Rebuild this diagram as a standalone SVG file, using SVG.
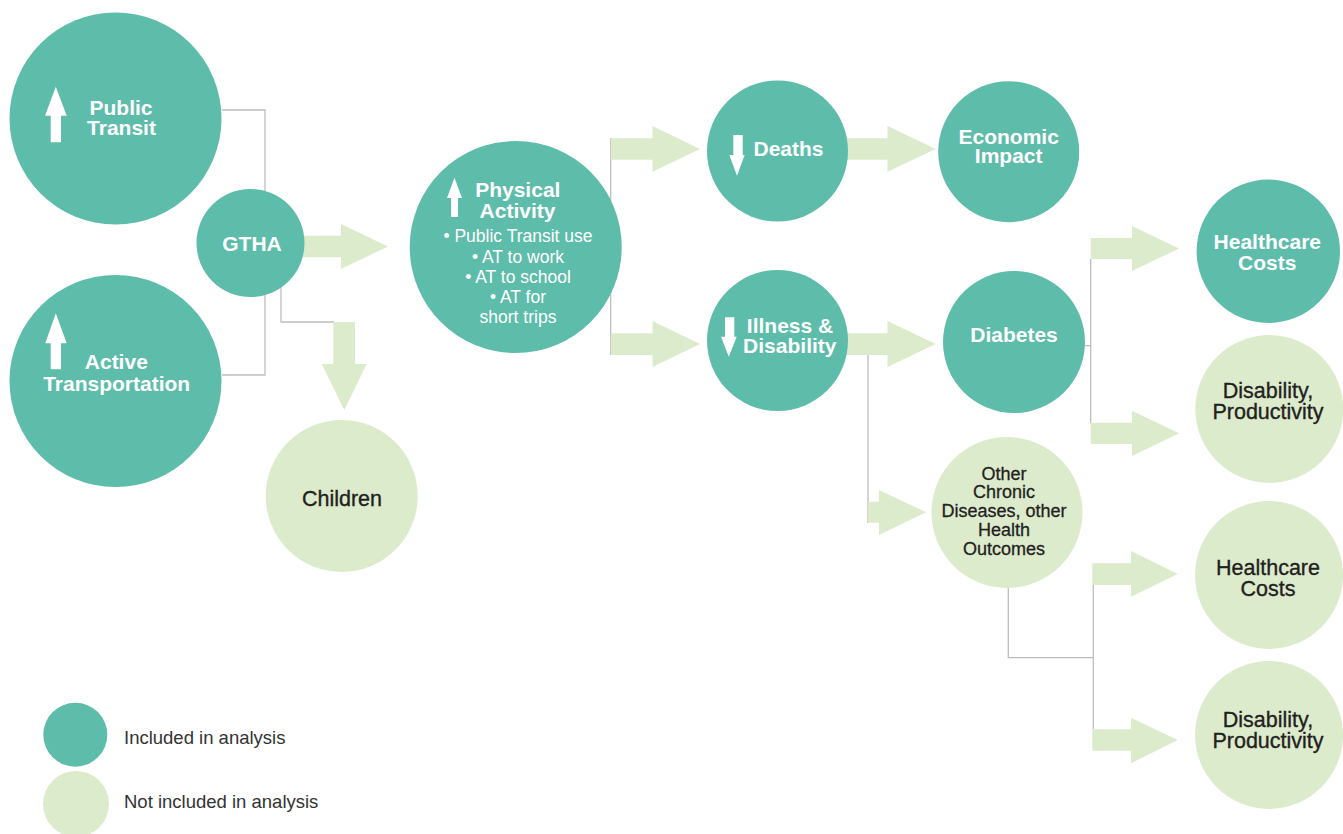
<svg xmlns="http://www.w3.org/2000/svg" width="1343" height="834" viewBox="0 0 1343 834">
<style>
.inc{fill:#5EBCAA}
.exc{fill:#DDEBCD}
.arr{fill:#DDEBCD}
.wa{fill:#FFFFFF}
.ln{fill:none;stroke:#BDBDBD;stroke-width:1.3}
text{font-family:"Liberation Sans",Arial,Helvetica,sans-serif;text-anchor:middle}
.tw{fill:#FFFFFF;font-weight:bold;font-size:21px}
.tb{fill:#FFFFFF;font-size:17.5px}
.td{fill:#231F20;font-size:21.5px;stroke:#231F20;stroke-width:0.35}
.ts{fill:#231F20;font-size:18px;stroke:#231F20;stroke-width:0.3}
.tl{fill:#333333;font-size:18.5px;text-anchor:start}
</style>
<rect width="1343" height="834" fill="#FFFFFF"/>
<g id="connectors">
<path class="ln" d="M222,110 H265 V375 H222"/>
<path class="ln" d="M281,287 V322 H334"/>
<path class="ln" d="M610.7,138 V355"/>
<path class="ln" d="M868,355 V523"/>
<path class="ln" d="M1085,345.7 H1090.7 M1090.7,259 V423"/>
<path class="ln" d="M1008.3,587 V657.7 H1093.3 M1093.3,585 V729.3"/>
<polygon class="arr" points="300,235.8 341,235.8 341,224 388,246.5 341,269 341,257.2 300,257.2"/>
<polygon class="arr" points="333.3,322 355,322 355,364 366.7,364 344.3,410 321.7,364 333.3,364"/>
<polygon class="arr" points="610.7,138.3 652.5,138.3 652.5,126 700,149 652.5,171.7 652.5,159.7 610.7,159.7"/>
<polygon class="arr" points="610.7,333.3 652.5,333.3 652.5,321 700,344 652.5,367 652.5,355 610.7,355"/>
<polygon class="arr" points="846,138.3 887.5,138.3 887.5,126 935.7,149 887.5,171.7 887.5,159.7 846,159.7"/>
<polygon class="arr" points="846,333.3 887.5,333.3 887.5,321 935.7,344 887.5,367 887.5,355 846,355"/>
<polygon class="arr" points="868,501.7 879,501.7 879,490 926,512.3 879,535 879,522.7 868,522.7"/>
<polygon class="arr" points="1090.7,238 1132,238 1132,226 1179,248.6 1132,271 1132,259 1090.7,259"/>
<polygon class="arr" points="1090.7,422.7 1132,422.7 1132,410.7 1179,433.3 1132,456 1132,444 1090.7,444"/>
<polygon class="arr" points="1092.3,563.3 1131,563.3 1131,551 1177.7,574 1131,596.7 1131,585 1092.3,585"/>
<polygon class="arr" points="1092.3,729.3 1131,729.3 1131,717.7 1177.7,740 1131,763.3 1131,750.7 1092.3,750.7"/>
</g>
<g id="public-transit">
<circle class="inc" cx="115.5" cy="118.5" r="106"/>
<polygon class="wa" points="55.8,86.7 66.7,115.7 61,115.7 61,142.3 50.7,142.3 50.7,115.7 45,115.7"/>
<text class="tw" x="121" y="114.7">Public</text>
<text class="tw" x="121.5" y="135">Transit</text>
</g>
<g id="active-transportation">
<circle class="inc" cx="115.5" cy="381" r="106"/>
<polygon class="wa" points="55.8,313.3 66.7,343.3 61,343.3 61,369.3 50.7,369.3 50.7,343.3 45.3,343.3"/>
<text class="tw" x="116.3" y="369.3">Active</text>
<text class="tw" x="116.7" y="390.7">Transportation</text>
</g>
<g id="gtha">
<circle class="inc" cx="250.5" cy="243" r="54"/>
<text class="tw" x="252" y="251">GTHA</text>
</g>
<g id="children">
<circle class="exc" cx="341.7" cy="496" r="76"/>
<text class="td" x="342" y="505.7">Children</text>
</g>
<g id="physical-activity">
<circle class="inc" cx="515.7" cy="247" r="106"/>
<polygon class="wa" points="454.5,177.7 462,198 458,198 458,217 451,217 451,198 447,198"/>
<text class="tw" x="517.8" y="196.7">Physical</text>
<text class="tw" x="517.5" y="218">Activity</text>
<text class="tb" x="518" y="242">• Public Transit use</text>
<text class="tb" x="518" y="262.7">• AT to work</text>
<text class="tb" x="518" y="282.7">• AT to school</text>
<text class="tb" x="518" y="302.7">• AT for</text>
<text class="tb" x="518" y="322.7">short trips</text>
</g>
<g id="deaths">
<circle class="inc" cx="777.5" cy="151" r="70.5"/>
<polygon class="wa" points="733.3,135 742.7,135 742.7,155 744.7,155 737,175.7 729.3,155 733.3,155"/>
<text class="tw" x="788.5" y="155.7">Deaths</text>
</g>
<g id="illness-disability">
<circle class="inc" cx="777.5" cy="340.5" r="70.5"/>
<polygon class="wa" points="725,317.3 734.3,317.3 734.3,336.7 736.7,336.7 728.8,356.7 721,336.7 725,336.7"/>
<text class="tw" x="790" y="332.7">Illness &amp;</text>
<text class="tw" x="789.8" y="352.7">Disability</text>
</g>
<g id="economic-impact">
<circle class="inc" cx="1008.7" cy="151.7" r="70.5"/>
<text class="tw" x="1008.7" y="144.3">Economic</text>
<text class="tw" x="1008.7" y="163.3">Impact</text>
</g>
<g id="diabetes">
<circle class="inc" cx="1014" cy="342" r="71"/>
<text class="tw" x="1014" y="341.7">Diabetes</text>
</g>
<g id="other-chronic">
<circle class="exc" cx="1007" cy="512.5" r="75.5"/>
<text class="ts" x="1004" y="480">Other</text>
<text class="ts" x="1004" y="498.3">Chronic</text>
<text class="ts" x="1004" y="517">Diseases, other</text>
<text class="ts" x="1004" y="536">Health</text>
<text class="ts" x="1004" y="555">Outcomes</text>
</g>
<g id="healthcare-costs-diabetes">
<circle class="inc" cx="1268.3" cy="251.3" r="71.7"/>
<text class="tw" x="1267.3" y="249">Healthcare</text>
<text class="tw" x="1267.3" y="270">Costs</text>
</g>
<g id="disability-productivity-diabetes">
<circle class="exc" cx="1269.3" cy="409" r="74"/>
<text class="td" x="1268" y="398.3">Disability,</text>
<text class="td" x="1268" y="419.3">Productivity</text>
</g>
<g id="healthcare-costs-other">
<circle class="exc" cx="1269" cy="575" r="74"/>
<text class="td" x="1268" y="575">Healthcare</text>
<text class="td" x="1268" y="596">Costs</text>
</g>
<g id="disability-productivity-other">
<circle class="exc" cx="1269" cy="735" r="74"/>
<text class="td" x="1268" y="726.7">Disability,</text>
<text class="td" x="1268" y="747.7">Productivity</text>
</g>
<g id="legend">
<circle class="inc" cx="75.3" cy="734.7" r="32"/>
<circle class="exc" cx="76" cy="804" r="33"/>
<text class="tl" x="124" y="744.3">Included in analysis</text>
<text class="tl" x="124" y="808.3">Not included in analysis</text>
</g>
</svg>
